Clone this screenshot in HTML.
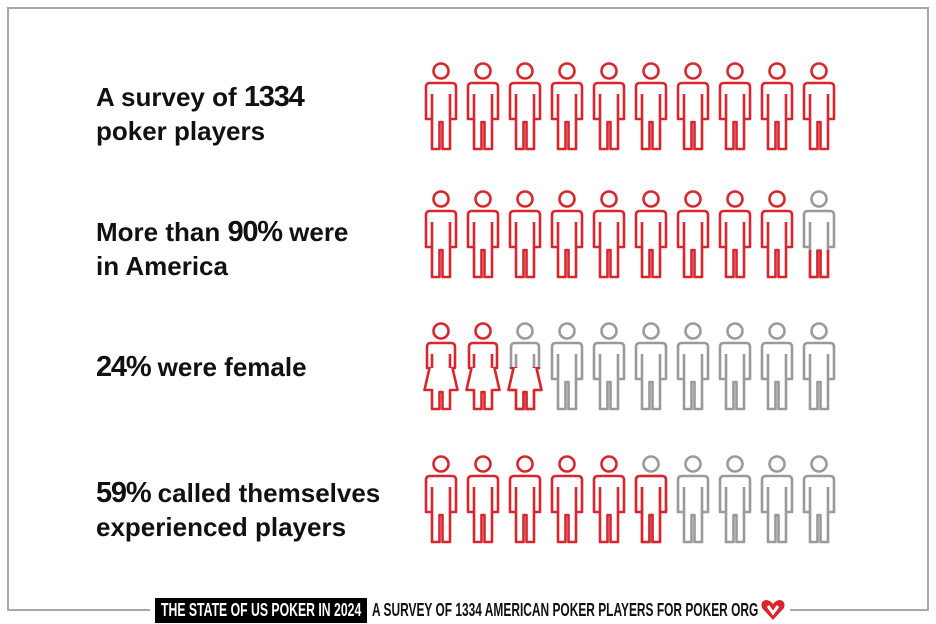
<!DOCTYPE html>
<html><head><meta charset="utf-8"><style>
html,body{margin:0;width:936px;height:624px;overflow:hidden}
body{background:#fff;position:relative;font-family:"Liberation Sans",sans-serif}
.t{position:absolute;left:96px;font-weight:bold;font-size:26px;line-height:34px;color:#111;white-space:nowrap}
.n{font-size:29px;letter-spacing:-1.2px}
.b{position:absolute;background:#a8a8a8}
.f{position:absolute;top:598px;height:25px;font-weight:bold;font-size:18px;line-height:25px;white-space:nowrap;transform-origin:0 0}
</style></head><body>
<div class="b" style="left:7px;top:7px;width:922px;height:2px"></div>
<div class="b" style="left:7px;top:7px;width:2px;height:604px"></div>
<div class="b" style="left:927px;top:7px;width:2px;height:604px"></div>
<div class="b" style="left:7px;top:609px;width:143px;height:2px"></div>
<div class="b" style="left:790px;top:609px;width:139px;height:2px"></div>
<div class="t" style="top:80px">A survey of <span class="n">1334</span><br>poker players</div>
<div class="t" style="top:215px">More than <span class="n">90%</span> were<br>in America</div>
<div class="t" style="top:350px"><span class="n">24%</span> were female</div>
<div class="t" style="top:476px"><span class="n">59%</span> called themselves<br>experienced players</div>
<div style="position:absolute;left:155px;top:598px;width:212px;height:25px;background:#000"></div>
<div class="f" id="f1" data-x="161" data-w="200" style="color:#fff">THE STATE OF US POKER IN 2024</div>
<div class="f" id="f2" data-x="372" data-w="386" style="color:#111">A SURVEY OF 1334 AMERICAN POKER PLAYERS FOR POKER ORG</div>
<svg style="position:absolute;left:760px;top:598px" width="26" height="24" viewBox="0 0 26 24"><path d="M13 22 L2 10 Q0 3 6 2 Q10 2 13 6 Q16 2 20 2 Q26 3 24 10 Z" fill="#d7262e"/><path d="M8 8 L13 15 L18 8" fill="none" stroke="#fff" stroke-width="3"/></svg>
<svg style="position:absolute;left:0;top:0" width="936" height="624">
<defs>
<clipPath id="cb"><rect x="0" y="60" width="36" height="40"/></clipPath>
<clipPath id="cc"><rect x="0" y="18" width="36" height="80"/></clipPath>
<clipPath id="cb2"><rect x="0" y="45" width="36" height="50"/></clipPath>
<g id="m" fill="none" stroke-width="2.6" stroke-linejoin="round"><circle cx="18" cy="9" r="7.5"/><path d="M7 21 H29 Q33 21 33 25 V57 H27 V87 H19.5 V60 H16.5 V87 H9 V57 H3 V25 Q3 21 7 21 Z M9 32 V57 M27 32 V57"/></g>
<g id="w" fill="none" stroke-width="2.6" stroke-linejoin="round"><circle cx="18" cy="9" r="7.5"/><path d="M8 21 H28 Q32 21 32 25 V46 H29.5 L34.5 68 H27 V87 H19.5 V70 H16.5 V87 H9 V68 H1.5 L6.5 46 H4 V25 Q4 21 8 21 Z M9 32 V46 M27 32 V46"/></g>
</defs>
<g id="rows"></g>
</svg>
<script>
var g=document.getElementById('rows'),R='#d7262e',G='#9a9a9a',s='';
var tops=[62,190,322,455];
function use(id,x,y,c,clip){return '<use href="#'+id+'" x="'+x+'" y="'+y+'" stroke="'+c+'"'+(clip?' clip-path="url(#'+clip+')"':'')+'/>';}
for(var r=0;r<4;r++)for(var i=0;i<10;i++){
 var x=423+i*42,y=tops[r];
 if(r==0)s+=use('m',x,y,R);
 if(r==1){if(i<9)s+=use('m',x,y,R);else s+='<g transform="translate('+x+','+y+')">'+use('m',0,0,G)+use('m',0,0,R,'cb')+'</g>';}
 if(r==2){if(i<2)s+=use('w',x,y,R);else if(i==2)s+='<g transform="translate('+x+','+y+')">'+use('w',0,0,G)+use('w',0,0,R,'cb2')+'</g>';else s+=use('m',x,y,G);}
 if(r==3){if(i<5)s+=use('m',x,y,R);else if(i==5)s+='<g transform="translate('+x+','+y+')">'+use('m',0,0,G)+use('m',0,0,R,'cc')+'</g>';else s+=use('m',x,y,G);}
}
g.innerHTML=s;
['f1','f2'].forEach(function(id){var e=document.getElementById(id);var w=e.scrollWidth;var t=+e.getAttribute('data-w');e.style.left=e.getAttribute('data-x')+'px';e.style.transform='scaleX('+(t/w)+')';});
</script>
</body></html>
